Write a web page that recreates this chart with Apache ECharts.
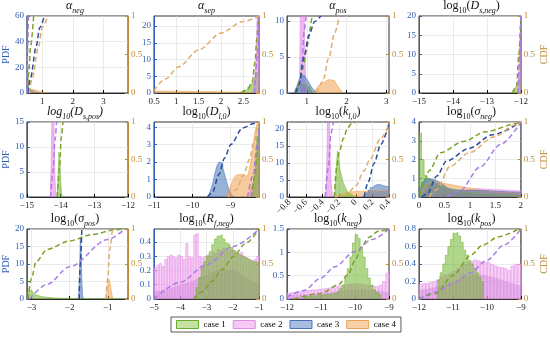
<!DOCTYPE html>
<html><head><meta charset="utf-8">
<script src="https://cdn.jsdelivr.net/npm/echarts@6/dist/echarts.min.js"></script>
<style>html,body{margin:0;padding:0;background:#fff}#c{width:550px;height:339px}</style>
</head><body><div id="c"></div>
<script>
// ===================== DATA =====================
const caseNames = ['case 1', 'case 2', 'case 3', 'case 4'];
const cdfTicks = [0, 0.5, 1];

// --- alpha_neg ---
const alphaNegXLim = [0.5, 3.8], alphaNegXTicks = [1, 2, 3], alphaNegYMax = 60, alphaNegYTicks = [0, 20, 40, 60];
const alphaNegBin1 = [0.5, 0.025], alphaNegPdf1 = [80, 12, 4, 2.5, 2, 1.5, 1, 0.8, 0.5, 0.3];
const alphaNegBin2 = [0.5, 0.02], alphaNegPdf2 = [90, 10, 2];
const alphaNegBin3 = [0.5, 0.025], alphaNegPdf3 = [70, 20, 5, 3, 2.5, 2, 1.6, 1.3, 1, 0.8, 0.6, 0.5, 0.4, 0.3, 0.2];
const alphaNegBin4 = [0.55, 0.05], alphaNegPdf4 = [2.5, 3, 2.8, 2.5, 2.2, 1.8, 1.4, 1, 0.7, 0.5, 0.3, 0.2];
const alphaNegCdf1 = [[0.52, 0], [0.56, 0.25], [0.62, 0.6], [0.72, 1]];
const alphaNegCdf2 = [[0.5, 0], [0.52, 0.5], [0.55, 1]];
const alphaNegCdf3 = [[0.55, 0], [0.62, 0.2], [0.8, 0.6], [0.92, 0.85], [1.07, 1]];
const alphaNegCdf4 = [[0.58, 0], [0.68, 0.2], [0.88, 0.6], [1.0, 0.85], [1.18, 1]];

// --- alpha_sep ---
const alphaSepXLim = [0.5, 2.85], alphaSepXTicks = [0.5, 1, 1.5, 2, 2.5], alphaSepYMax = 23, alphaSepYTicks = [0, 5, 10, 15, 20];
const alphaSepBin1 = [2.3, 0.05], alphaSepPdf1 = [0.1, 0.2, 0.3, 0.5, 0.8, 1.2, 1.8, 2.6, 3.6, 4.8, 6];
const alphaSepBin2 = [2.73, 0.03], alphaSepPdf2 = [2, 5, 12, 30];
const alphaSepBin4 = [0.5, 0.1], alphaSepPdf4 = [0.6, 0.6, 0.55, 0.55, 0.55, 0.5, 0.5, 0.5, 0.45, 0.45, 0.45, 0.45, 0.45, 0.4, 0.35, 0.3, 0.3, 0.3, 0.25, 0.25, 0.2, 0.2, 0.2, 0.2];
const alphaSepCdf1 = [[2.45, 0], [2.6, 0.05], [2.7, 0.15], [2.76, 0.4], [2.8, 0.7], [2.84, 1]];
const alphaSepCdf2 = [[2.75, 0], [2.82, 0.5], [2.85, 1]];
const alphaSepCdf4 = [[0.5, 0.03], [0.75, 0.18], [1.05, 0.34], [1.5, 0.56], [2.0, 0.78], [2.5, 0.93], [2.85, 1.0]];

// --- alpha_pos ---
const alphaPosXLim = [0.5, 3.07], alphaPosXTicks = [1, 2, 3], alphaPosYMax = 10.7, alphaPosYTicks = [0, 5, 10];
const alphaPosBin1 = [0.7, 0.05], alphaPosPdf1 = [0.3, 0.8, 1.3, 1.2, 1.1, 1.3, 1.0, 0.8, 0.5];
const alphaPosBin2 = [0.82, 0.02], alphaPosPdf2 = [3, 12, 30, 45, 35, 18, 8, 3, 1];
const alphaPosBin3 = [0.7, 0.05], alphaPosPdf3 = [0.4, 1.0, 1.8, 2.5, 2.4, 2.2, 1.9, 1.5, 1.0, 0.6, 0.3];
const alphaPosBin4 = [1.2, 0.05], alphaPosPdf4 = [0.3, 0.7, 1.0, 1.3, 1.5, 1.7, 1.8, 1.85, 1.8, 1.7, 1.5, 1.2, 0.8, 0.4, 0.1];
const alphaPosCdf1 = [[0.72, 0], [0.82, 0.15], [0.92, 0.35], [1.0, 0.6], [1.14, 0.98], [1.17, 1]];
const alphaPosCdf2 = [[0.82, 0], [0.88, 0.4], [0.93, 0.8], [0.98, 1]];
const alphaPosCdf3 = [[0.72, 0], [0.8, 0.1], [0.93, 0.47], [1.05, 0.75], [1.2, 0.93], [1.35, 1]];
const alphaPosCdf4 = [[1.25, 0], [1.4, 0.15], [1.55, 0.45], [1.7, 0.78], [1.82, 1]];

// --- log10(D_s,neg) ---
const dsNegXLim = [-15, -12], dsNegXTicks = [-15, -14, -13, -12], dsNegYMax = 20, dsNegYTicks = [0, 5, 10, 15, 20];
const dsNegBin1 = [-12.2, 0.025], dsNegPdf1 = [0.3, 1, 1.5, 2, 2.5, 3, 3.5, 4];
const dsNegBin2 = [-12.08, 0.02], dsNegPdf2 = [2, 5, 9, 14];
const dsNegCdf1 = [[-12.25, 0], [-12.12, 0.1], [-12.06, 0.5], [-12.0, 1]];
const dsNegCdf2 = [[-12.08, 0], [-12.03, 0.5], [-12.0, 1]];

// --- log10(D_s,pos) ---
const dsPosXLim = [-15, -12], dsPosXTicks = [-15, -14, -13, -12], dsPosYMax = 15, dsPosYTicks = [0, 5, 10, 15];
const dsPosBin1 = [-14.1, 0.025], dsPosPdf1 = [1, 4, 9, 7, 3, 1];
const dsPosBin2 = [-14.3, 0.025], dsPosPdf2 = [2, 8, 20, 30, 15, 5, 1];
const dsPosCdf1 = [[-14.1, 0], [-14.03, 0.4], [-13.98, 0.8], [-13.93, 1]];
const dsPosCdf2 = [[-14.3, 0], [-14.22, 0.35], [-14.17, 0.75], [-14.12, 1]];

// --- log10(D_l,0) ---
const dl0XLim = [-11, -8.25], dl0XTicks = [-11, -10, -9], dl0YMax = 4.3, dl0YTicks = [0, 1, 2, 3, 4];
const dl0Bin1 = [-8.4, 0.05], dl0Pdf1 = [0.5, 1.5, 3.5];
const dl0Bin2 = [-8.5, 0.05], dl0Pdf2 = [0.2, 0.5, 0.9, 1.3, 1.8];
const dl0Bin3 = [-9.55, 0.05], dl0Pdf3 = [0.2, 0.5, 0.9, 1.4, 1.8, 2.0, 1.95, 1.7, 1.3, 0.9, 0.5, 0.25, 0.1];
const dl0Bin4 = [-9.1, 0.05], dl0Pdf4 = [0.1, 0.3, 0.6, 0.9, 1.1, 1.25, 1.3, 1.3, 1.25, 1.2, 1.2, 1.3, 1.6, 2.2, 3.0, 3.8, 4.2];
const dl0Cdf1 = [[-8.45, 0], [-8.35, 0.3], [-8.3, 0.6], [-8.25, 0.95]];
const dl0Cdf2 = [[-8.55, 0], [-8.4, 0.3], [-8.3, 0.7], [-8.25, 0.9]];
const dl0Cdf3 = [[-9.6, 0], [-9.47, 0.06], [-9.3, 0.3], [-9.15, 0.52], [-8.99, 0.7], [-8.68, 0.92], [-8.38, 0.98], [-8.25, 1]];
const dl0Cdf4 = [[-9.05, 0], [-8.85, 0.1], [-8.65, 0.3], [-8.5, 0.5], [-8.38, 0.75], [-8.28, 0.96], [-8.25, 1]];

// --- log10(k_l,0) ---
const kl0XLim = [-0.83, 0.4], kl0XTicks = [-0.8, -0.6, -0.4, -0.2, 0, 0.2, 0.4], kl0YMax = 22, kl0YTicks = [0, 5, 10, 15, 20];
const kl0Bin1 = [-0.25, 0.01], kl0Pdf1 = [2, 6, 11, 13.5, 12, 10, 8, 7, 6, 5, 4, 3.5, 3, 2.5, 2, 1.6, 1.3, 1.0, 0.8, 0.6, 0.5, 0.4, 0.3, 0.2];
const kl0Bin2 = [-0.36, 0.01], kl0Pdf2 = [3, 10, 25, 35, 25, 12, 5, 2];
const kl0Bin3 = [0.1, 0.025], kl0Pdf3 = [0.5, 1.2, 2.0, 2.8, 3.3, 3.6, 3.7, 3.6, 3.4, 3.2, 3.1, 3.0];
const kl0Bin4 = [-0.25, 0.05], kl0Pdf4 = [0.5, 1.0, 1.3, 1.5, 1.6, 1.7, 1.7, 1.8, 1.8, 1.8, 1.9, 2.0, 2.1];
const kl0Cdf1 = [[-0.26, 0], [-0.23, 0.4], [-0.2, 0.6], [-0.15, 0.78], [-0.1, 0.92], [-0.05, 0.98], [0, 1]];
const kl0Cdf2 = [[-0.37, 0], [-0.33, 0.4], [-0.3, 0.85], [-0.27, 1]];
const kl0Cdf3 = [[0.1, 0], [0.15, 0.2], [0.22, 0.45], [0.3, 0.7], [0.4, 0.98]];
const kl0Cdf4 = [[-0.25, 0], [-0.1, 0.05], [0.0, 0.15], [0.1, 0.35], [0.17, 0.5], [0.3, 0.78], [0.4, 0.97]];

// --- log10(sigma_neg) ---
const sigNegXLim = [0, 2], sigNegXTicks = [0, 0.5, 1, 1.5, 2], sigNegYMax = 4, sigNegYTicks = [0, 1, 2, 3, 4];
const sigNegBin = [0, 0.05];
const sigNegPdf1 = [3.4, 2.0, 1.15, 1.0, 0.9, 0.8, 0.7, 0.6, 0.55, 0.5, 0.45, 0.4, 0.38, 0.35, 0.32, 0.3, 0.28, 0.26, 0.24, 0.22, 0.2, 0.2, 0.18, 0.17, 0.16, 0.15, 0.14, 0.13, 0.12, 0.12, 0.11, 0.1, 0.1, 0.1, 0.09, 0.09, 0.08, 0.08, 0.08, 0.07];
const sigNegPdf2 = [0.03, 0.03, 0.04, 0.05, 0.06, 0.07, 0.08, 0.1, 0.12, 0.14, 0.17, 0.2, 0.23, 0.26, 0.3, 0.33, 0.36, 0.38, 0.4, 0.42, 0.44, 0.45, 0.46, 0.46, 0.45, 0.44, 0.44, 0.43, 0.42, 0.42, 0.41, 0.4, 0.4, 0.39, 0.38, 0.37, 0.36, 0.36, 0.35, 0.35];
const sigNegPdf3 = [0.5, 0.8, 0.95, 0.98, 0.96, 0.93, 0.88, 0.8, 0.7, 0.6, 0.5, 0.45, 0.42, 0.4, 0.38, 0.37, 0.36, 0.35, 0.35, 0.35, 0.35, 0.35, 0.35, 0.35, 0.35, 0.35, 0.34, 0.33, 0.32, 0.31, 0.3, 0.3, 0.29, 0.28, 0.28, 0.27, 0.27, 0.26, 0.26, 0.25];
const sigNegPdf4 = [0.1, 0.3, 0.5, 0.7, 0.8, 0.82, 0.8, 0.78, 0.75, 0.72, 0.7, 0.68, 0.65, 0.62, 0.6, 0.57, 0.55, 0.52, 0.5, 0.48, 0.45, 0.43, 0.4, 0.38, 0.36, 0.34, 0.32, 0.3, 0.29, 0.28, 0.27, 0.26, 0.25, 0.24, 0.23, 0.22, 0.21, 0.2, 0.2, 0.19];
const sigNegCdf1 = [[0.02, 0.02], [0.1, 0.2], [0.2, 0.35], [0.42, 0.59], [0.87, 0.74], [1.31, 0.87], [1.92, 0.98], [2, 1]];
const sigNegCdf2 = [[0.55, 0], [0.8, 0.08], [1.2, 0.4], [1.6, 0.7], [2, 1]];
const sigNegCdf3 = [[0.05, 0], [0.16, 0.04], [0.35, 0.28], [0.54, 0.48], [0.99, 0.65], [1.44, 0.83], [2, 1]];
const sigNegCdf4 = [[0.2, 0], [0.35, 0.1], [0.61, 0.41], [0.99, 0.59], [1.47, 0.8], [1.89, 0.96], [2, 1]];

// --- log10(sigma_pos) ---
const sigPosXLim = [-3.12, -0.47], sigPosXTicks = [-3, -2, -1], sigPosYMax = 20, sigPosYTicks = [0, 5, 10, 15, 20];
const sigPosBin1 = [-3.1, 0.05], sigPosPdf1 = [2.2, 2.5, 2.3, 1.8, 1.2, 0.9, 0.7, 0.6, 0.55, 0.5, 0.45, 0.4, 0.35, 0.3, 0.28, 0.25, 0.22, 0.2, 0.2, 0.2, 0.18, 0.18, 0.16, 0.16, 0.15, 0.15, 0.14, 0.14, 0.13, 0.13, 0.12, 0.12, 0.12, 0.11, 0.11, 0.1, 0.1, 0.1, 0.09, 0.09, 0.08, 0.08, 0.08, 0.07, 0.07, 0.06, 0.06, 0.05, 0.05, 0.05];
const sigPosBin3 = [-1.76, 0.02], sigPosPdf3 = [2, 8, 17.5, 14, 5, 1];
const sigPosBin4 = [-1.05, 0.02], sigPosPdf4 = [0.5, 1.5, 3, 4.5, 5.7, 5.2, 4, 2.5, 1.2, 0.4];
const sigPosCdf1 = [[-3.09, 0], [-3.0, 0.3], [-2.88, 0.53], [-2.59, 0.71], [-2.0, 0.83], [-1.42, 0.92], [-0.79, 0.99], [-0.54, 1]];
const sigPosCdf2 = [[-3.05, 0], [-2.59, 0.21], [-2.0, 0.46], [-1.0, 0.85], [-0.55, 1]];
const sigPosCdf3 = [[-1.75, 0], [-1.72, 0.5], [-1.68, 1]];
const sigPosCdf4 = [[-1.05, 0], [-1.0, 0.3], [-0.95, 0.7], [-0.88, 1]];

// --- log10(R_f,neg) ---
const rfNegXLim = [-5, -1], rfNegXTicks = [-5, -4, -3, -2, -1], rfNegYMax = 0.49, rfNegYTicks = [0, 0.1, 0.2, 0.3, 0.4];
const rfNegBin2 = [-5, 0.1], rfNegPdf2 = [0.22, 0.24, 0.25, 0.23, 0.28, 0.3, 0.31, 0.3, 0.29, 0.31, 0.3, 0.28, 0.39, 0.3, 0.29, 0.45, 0.46, 0.3, 0.29, 0.3, 0.31, 0.3, 0.33, 0.32, 0.35, 0.34, 0.36, 0.35, 0.34, 0.35, 0.34, 0.33, 0.32, 0.33, 0.3, 0.29, 0.28, 0.27, 0.28, 0.3];
const rfNegDens2 = [[-5, 0.05], [-4.5, 0.07], [-4, 0.1], [-3.5, 0.13], [-3, 0.17], [-2.5, 0.2], [-2, 0.2], [-1.5, 0.15], [-1, 0.1]];
const rfNegBin1 = [-3.4, 0.1], rfNegPdf1 = [0.08, 0.15, 0.22, 0.26, 0.3, 0.33, 0.38, 0.42, 0.44, 0.45, 0.42, 0.39, 0.38, 0.36, 0.34, 0.32, 0.31, 0.3, 0.29, 0.28, 0.27, 0.26, 0.26, 0.25, 0.24, 0.24, 0.23, 0.23, 0.22, 0.22, 0.22, 0.21, 0.21, 0.2];
const rfNegCdf1 = [[-3.5, 0], [-3.18, 0.1], [-2.8, 0.25], [-2.4, 0.42], [-2.0, 0.6], [-1.5, 0.8], [-1.0, 1]];
const rfNegCdf2 = [[-5, 0], [-4, 0.24], [-3, 0.49], [-2, 0.75], [-1, 1]];

// --- log10(k_neg) ---
const kNegXLim = [-12, -9], kNegXTicks = [-12, -11, -10, -9], kNegYMax = 1.5, kNegYTicks = [0, 0.5, 1, 1.5];
const kNegBin2 = [-12, 0.1], kNegPdf2 = [0.13, 0.14, 0.15, 0.16, 0.17, 0.18, 0.19, 0.2, 0.2, 0.21, 0.22, 0.23, 0.24, 0.26, 0.27, 0.28, 0.3, 0.31, 0.32, 0.33, 0.33, 0.32, 0.31, 0.3, 0.29, 0.28, 0.27, 0.3, 0.38, 0.56];
const kNegDens2 = [[-12, 0.08], [-11.5, 0.1], [-11, 0.13], [-10.5, 0.17], [-10, 0.2], [-9.5, 0.19], [-9, 0.15]];
const kNegBin1 = [-11.5, 0.075], kNegPdf1 = [0.05, 0.05, 0.06, 0.06, 0.07, 0.08, 0.08, 0.09, 0.1, 0.1, 0.11, 0.12, 0.14, 0.17, 0.22, 0.3, 0.45, 0.65, 0.9, 1.2, 1.38, 1.3, 1.1, 0.9, 0.65, 0.45, 0.3, 0.2, 0.15, 0.1];
const kNegCdf1 = [[-11.8, 0], [-11, 0.08], [-10.5, 0.2], [-10.2, 0.35], [-10.0, 0.55], [-9.8, 0.75], [-9.6, 0.88], [-9.3, 0.97], [-9, 1]];
const kNegCdf2 = [[-12, 0.03], [-11.5, 0.12], [-11, 0.3], [-10.6, 0.46], [-10, 0.68], [-9.5, 0.85], [-9, 1]];

// --- log10(k_pos) ---
const kPosXLim = [-12, -9], kPosXTicks = [-12, -11, -10, -9], kPosYMax = 0.8, kPosYTicks = [0, 0.2, 0.4, 0.6, 0.8];
const kPosBin2 = [-12, 0.1], kPosPdf2 = [0.17, 0.18, 0.18, 0.19, 0.2, 0.22, 0.26, 0.28, 0.28, 0.3, 0.32, 0.35, 0.38, 0.4, 0.42, 0.43, 0.45, 0.44, 0.43, 0.42, 0.42, 0.4, 0.38, 0.37, 0.36, 0.35, 0.33, 0.38, 0.4, 0.4];
const kPosDens2 = [[-12, 0.1], [-11.5, 0.14], [-11, 0.2], [-10.6, 0.26], [-10.2, 0.28], [-9.8, 0.25], [-9.4, 0.2], [-9, 0.15]];
const kPosBin1 = [-11.45, 0.075], kPosPdf1 = [0.22, 0.3, 0.4, 0.5, 0.6, 0.68, 0.75, 0.76, 0.72, 0.65, 0.56, 0.5, 0.44, 0.4, 0.35, 0.3, 0.25, 0.2];
const kPosCdf1 = [[-12, 0], [-11.5, 0.08], [-11, 0.34], [-10.46, 0.63], [-10.13, 0.77], [-9.65, 0.89], [-9.07, 1.0]];
const kPosCdf2 = [[-12, 0.0], [-11.5, 0.1], [-11, 0.22], [-10.5, 0.37], [-10, 0.55], [-9.5, 0.77], [-9, 1]];

// ===================== STYLE / LAYOUT =====================
const SERIF = "'Liberation Serif','DejaVu Serif',serif";
const LEFT_C = '#2f5db3', RIGHT_C = '#c08b36';
const FILL = ['#6fb52c', '#df7fe3', '#4472b8', '#eea04d'];
const CDF_C = ['#7ea12a', '#a97de8', '#2b4c9c', '#e0ad6c'];
const LEG_FILL = ['#c4e3a3', '#f6c8f6', '#a9bde2', '#f7d0a8'];
const LEG_EDGE = ['#6aaa30', '#e08de0', '#4a70b8', '#e9a050'];
const cols = [[22, 106], [154, 105], [287, 102], [419, 105]];
const rows = [[16, 77], [122, 75], [229, 70]];

const RICH = {
  r: {fontFamily: SERIF, fontSize: 12, lineHeight: 18, fontWeight: 'normal', color: '#111'},
  i: {fontFamily: SERIF, fontSize: 12, lineHeight: 18, fontWeight: 'normal', fontStyle: 'italic', color: '#111'},
  s: {fontFamily: SERIF, fontSize: 8, lineHeight: 8, fontWeight: 'normal', verticalAlign: 'bottom', color: '#111'},
  si: {fontFamily: SERIF, fontSize: 8, lineHeight: 8, fontWeight: 'normal', verticalAlign: 'bottom', fontStyle: 'italic', color: '#111'}
};

function hist(bins, vals) {
  const e0 = bins[0], w = bins[1];
  const pts = [[e0, 0]];
  vals.forEach((v, i) => pts.push([e0 + i * w, v]));
  pts.push([e0 + vals.length * w, 0]);
  return pts;
}
function barData(bins, vals) {
  return vals.map((v, i) => [bins[0] + (i + 0.5) * bins[1], v]);
}
const fmt = v => String(Math.round(v * 1000) / 1000).replace('-', '\u2212');

const P = (title, xlim, xt, ymax, yt, hists, bars, dens, cdfs, rot) => ({title, xlim, xt, ymax, yt, hists, bars, dens, cdfs, rot});
const panels = [
  P('{i|α}{si|neg}', alphaNegXLim, alphaNegXTicks, alphaNegYMax, alphaNegYTicks,
    [[1, alphaNegBin2, alphaNegPdf2], [0, alphaNegBin1, alphaNegPdf1], [2, alphaNegBin3, alphaNegPdf3], [3, alphaNegBin4, alphaNegPdf4]], null, null,
    [[0, alphaNegCdf1], [1, alphaNegCdf2], [2, alphaNegCdf3], [3, alphaNegCdf4]]),
  P('{i|α}{si|sep}', alphaSepXLim, alphaSepXTicks, alphaSepYMax, alphaSepYTicks,
    [[0, alphaSepBin1, alphaSepPdf1], [1, alphaSepBin2, alphaSepPdf2], [3, alphaSepBin4, alphaSepPdf4]], null, null,
    [[0, alphaSepCdf1], [1, alphaSepCdf2], [3, alphaSepCdf4]]),
  P('{i|α}{si|pos}', alphaPosXLim, alphaPosXTicks, alphaPosYMax, alphaPosYTicks,
    [[0, alphaPosBin1, alphaPosPdf1], [1, alphaPosBin2, alphaPosPdf2], [2, alphaPosBin3, alphaPosPdf3], [3, alphaPosBin4, alphaPosPdf4]], null, null,
    [[0, alphaPosCdf1], [1, alphaPosCdf2], [2, alphaPosCdf3], [3, alphaPosCdf4]]),
  P('{r|log}{s|10}{r|(}{i|D}{si|s,neg}{r|)}', dsNegXLim, dsNegXTicks, dsNegYMax, dsNegYTicks,
    [[0, dsNegBin1, dsNegPdf1], [1, dsNegBin2, dsNegPdf2]], null, null,
    [[0, dsNegCdf1], [1, dsNegCdf2]]),
  P('{i|log}{si|10}{i|(D}{si|s,pos}{i|)}', dsPosXLim, dsPosXTicks, dsPosYMax, dsPosYTicks,
    [[0, dsPosBin1, dsPosPdf1], [1, dsPosBin2, dsPosPdf2]], null, null,
    [[0, dsPosCdf1], [1, dsPosCdf2]]),
  P('{r|log}{s|10}{r|(}{i|D}{si|l,0}{r|)}', dl0XLim, dl0XTicks, dl0YMax, dl0YTicks,
    [[2, dl0Bin3, dl0Pdf3], [3, dl0Bin4, dl0Pdf4], [1, dl0Bin2, dl0Pdf2], [0, dl0Bin1, dl0Pdf1]], null, null,
    [[0, dl0Cdf1], [1, dl0Cdf2], [2, dl0Cdf3], [3, dl0Cdf4]]),
  P('{r|log}{s|10}{r|(}{i|k}{si|l,0}{r|)}', kl0XLim, kl0XTicks, kl0YMax, kl0YTicks,
    [[3, kl0Bin4, kl0Pdf4], [2, kl0Bin3, kl0Pdf3], [0, kl0Bin1, kl0Pdf1], [1, kl0Bin2, kl0Pdf2]], null, null,
    [[0, kl0Cdf1], [1, kl0Cdf2], [2, kl0Cdf3], [3, kl0Cdf4]], 45),
  P('{r|log}{s|10}{r|(}{i|σ}{si|neg}{r|)}', sigNegXLim, sigNegXTicks, sigNegYMax, sigNegYTicks,
    [[0, sigNegBin, sigNegPdf1], [3, sigNegBin, sigNegPdf4], [2, sigNegBin, sigNegPdf3]], [sigNegBin, sigNegPdf2], null,
    [[0, sigNegCdf1], [1, sigNegCdf2], [2, sigNegCdf3], [3, sigNegCdf4]]),
  P('{r|log}{s|10}{r|(}{i|σ}{si|pos}{r|)}', sigPosXLim, sigPosXTicks, sigPosYMax, sigPosYTicks,
    [[0, sigPosBin1, sigPosPdf1], [2, sigPosBin3, sigPosPdf3], [3, sigPosBin4, sigPosPdf4]], null, null,
    [[0, sigPosCdf1], [1, sigPosCdf2], [2, sigPosCdf3], [3, sigPosCdf4]]),
  P('{r|log}{s|10}{r|(}{i|R}{si|f,neg}{r|)}', rfNegXLim, rfNegXTicks, rfNegYMax, rfNegYTicks,
    [[0, rfNegBin1, rfNegPdf1]], [rfNegBin2, rfNegPdf2], rfNegDens2,
    [[0, rfNegCdf1], [1, rfNegCdf2]]),
  P('{r|log}{s|10}{r|(}{i|k}{si|neg}{r|)}', kNegXLim, kNegXTicks, kNegYMax, kNegYTicks,
    [[0, kNegBin1, kNegPdf1]], [kNegBin2, kNegPdf2], kNegDens2,
    [[0, kNegCdf1], [1, kNegCdf2]]),
  P('{r|log}{s|10}{r|(}{i|k}{si|pos}{r|)}', kPosXLim, kPosXTicks, kPosYMax, kPosYTicks,
    [[0, kPosBin1, kPosPdf1]], [kPosBin2, kPosPdf2], kPosDens2,
    [[0, kPosCdf1], [1, kPosCdf2]])
];

// ===================== OPTION =====================
const option = {
  animation: false, backgroundColor: '#fff',
  title: [], grid: [], xAxis: [], yAxis: [], series: [],
  legend: {
    data: caseNames.map((n, i) => ({name: n, itemStyle: {color: LEG_FILL[i], borderColor: LEG_EDGE[i], borderWidth: 1, opacity: 1}})),
    icon: 'rect', left: 171, top: 317, itemWidth: 22, itemHeight: 8, itemGap: 7,
    padding: [3, 5], borderColor: '#333', borderWidth: 0.8, selectedMode: false,
    textStyle: {fontFamily: SERIF, fontSize: 9, color: '#000'}
  }
};
const gridLine = {show: true, lineStyle: {color: '#dedede', width: 0.6}};

panels.forEach((p, k) => {
  const r = Math.floor(k / 4), c = k % 4;
  const L = cols[c][0], W = cols[c][1], T = rows[r][0], H = rows[r][1];
  option.grid.push({left: L, top: T, width: W, height: H, show: true, borderColor: '#000', borderWidth: 0.8, backgroundColor: 'rgba(0,0,0,0)'});
  option.title.push({text: p.title, left: L + W / 2, top: T - 19, textAlign: 'center', padding: 0, textStyle: {rich: RICH, fontSize: 12, fontWeight: 'normal', fontFamily: SERIF}});
  option.xAxis.push({
    gridIndex: k, type: 'value', min: p.xlim[0], max: p.xlim[1],
    axisLine: {onZero: false, lineStyle: {color: '#000', width: 0.8}},
    axisTick: {inside: true, length: 3, customValues: p.xt, lineStyle: {color: '#000'}},
    axisLabel: {customValues: p.xt, formatter: fmt, fontFamily: SERIF, fontSize: 9, color: '#222', margin: 4, rotate: p.rot || 0},
    splitLine: gridLine
  });
  option.yAxis.push({
    gridIndex: k, type: 'value', position: 'left', min: 0, max: p.ymax,
    axisLine: {show: true, onZero: false, lineStyle: {color: LEFT_C, width: 1}},
    axisTick: {show: true, inside: true, length: 3, customValues: p.yt, lineStyle: {color: LEFT_C}},
    axisLabel: {customValues: p.yt, formatter: fmt, fontFamily: SERIF, fontSize: 9, color: LEFT_C, margin: 3},
    splitLine: gridLine,
    name: c === 0 ? 'PDF' : '', nameLocation: 'middle', nameGap: 12, nameRotate: 90,
    nameTextStyle: {color: LEFT_C, fontFamily: SERIF, fontSize: 10}
  });
  option.yAxis.push({
    gridIndex: k, type: 'value', position: 'right', min: 0, max: 1,
    axisLine: {show: true, onZero: false, lineStyle: {color: RIGHT_C, width: 1}},
    axisTick: {show: true, inside: true, length: 3, customValues: cdfTicks, lineStyle: {color: RIGHT_C}},
    axisLabel: {customValues: cdfTicks, formatter: fmt, fontFamily: SERIF, fontSize: 9, color: RIGHT_C, margin: 3},
    splitLine: {show: false},
    name: c === 3 ? 'CDF' : '', nameLocation: 'middle', nameGap: 14, nameRotate: 90,
    nameTextStyle: {color: RIGHT_C, fontFamily: SERIF, fontSize: 10}
  });
  if (p.bars) {
    option.series.push({
      type: 'bar', name: 'case 2', xAxisIndex: k, yAxisIndex: 2 * k, data: barData(p.bars[0], p.bars[1]),
      barWidth: '100%', silent: true, z: 1,
      itemStyle: {color: 'rgba(242,180,242,0.6)', borderColor: '#e592e5', borderWidth: 0.6}
    });
  }
  if (p.dens) {
    option.series.push({
      type: 'line', name: 'case 2', xAxisIndex: k, yAxisIndex: 2 * k, data: p.dens, smooth: 0.4,
      symbol: 'none', silent: true, z: 2, lineStyle: {width: 0, opacity: 0},
      areaStyle: {color: 'rgba(192,110,205,0.45)'}
    });
  }
  p.hists.forEach(h => {
    const ci = h[0];
    option.series.push({
      type: 'line', name: caseNames[ci], xAxisIndex: k, yAxisIndex: 2 * k, data: hist(h[1], h[2]),
      step: 'end', symbol: 'none', silent: true, z: 3,
      lineStyle: {width: 0.6, color: FILL[ci], opacity: 0.9},
      itemStyle: {color: FILL[ci]},
      areaStyle: {color: FILL[ci], opacity: 0.55}
    });
  });
  p.cdfs.forEach(cd => {
    const ci = cd[0];
    option.series.push({
      type: 'line', name: 'CDF ' + caseNames[ci], xAxisIndex: k, yAxisIndex: 2 * k + 1, data: cd[1],
      smooth: 0.3, smoothMonotone: 'x', symbol: 'none', silent: true, z: 5,
      lineStyle: {type: [5, 3], width: 1.5, color: CDF_C[ci]}
    });
  });
});

const chart = echarts.init(document.getElementById('c'), null, {renderer: 'canvas'});
chart.setOption(option);
</script>
</body></html>
